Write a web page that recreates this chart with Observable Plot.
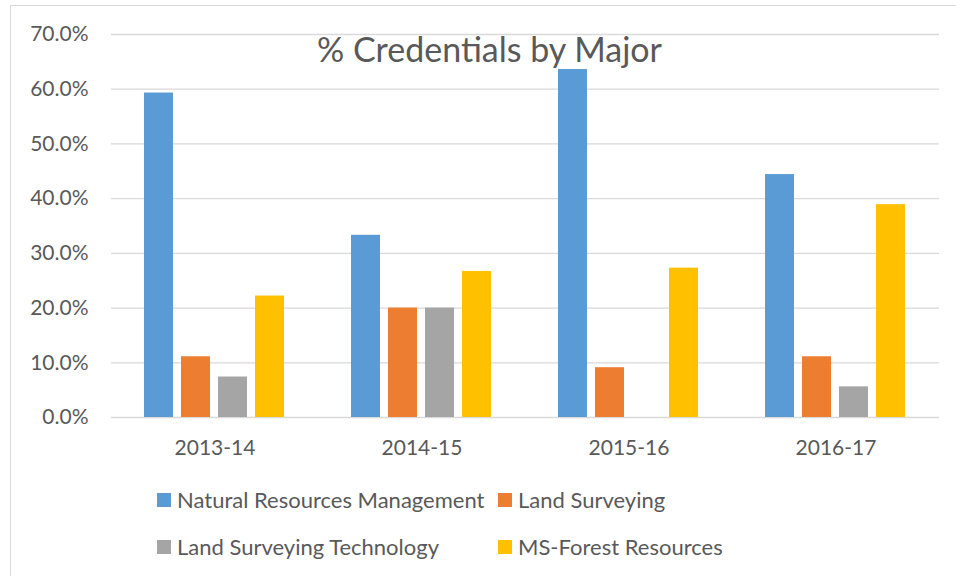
<!DOCTYPE html>
<html>
<head>
<meta charset="utf-8">
<script src="https://cdn.jsdelivr.net/npm/d3@7"></script>
<script src="https://cdn.jsdelivr.net/npm/@observablehq/plot@0.6"></script>
<style>
  html, body { margin: 0; padding: 0; background: #fff; }
  #wrap { position: relative; width: 956px; height: 576px; overflow: hidden; background: #fff; font-family: Lato, "Open Sans", sans-serif; }
  #frame { position: absolute; left: 10px; top: 5px; width: 1000px; height: 640px; border: 1.3px solid #d9d9d9; box-sizing: border-box; }
  #chart { position: absolute; left: 0; top: 0; }
  #overlay { position: absolute; left: 0; top: 0; pointer-events: none; }
</style>
</head>
<body>
<div id="wrap">
  <div id="frame"></div>
  <div id="chart"></div>
  <svg id="overlay" width="956" height="576"></svg>
</div>
<script>
const title = "% Credentials by Major";
const years = ["2013-14", "2014-15", "2015-16", "2016-17"];
const series = ["Natural Resources Management", "Land Surveying", "Land Surveying Technology", "MS-Forest Resources"];
const colors = ["#5B9BD5", "#ED7D31", "#A5A5A5", "#FFC000"];
const naturalResourcesManagement = [0.593, 0.333, 0.636, 0.444];
const landSurveying = [0.111, 0.200, 0.091, 0.111];
const landSurveyingTechnology = [0.074, 0.200, 0.000, 0.056];
const msForestResources = [0.222, 0.267, 0.273, 0.389];
const yTicks = [0, 0.1, 0.2, 0.3, 0.4, 0.5, 0.6, 0.7];

const valuesBySeries = [naturalResourcesManagement, landSurveying, landSurveyingTechnology, msForestResources];
const rows = [];
years.forEach((year, i) => {
  series.forEach((s, j) => rows.push({year, series: s, value: valuesBySeries[j][i]}));
});

const textColor = "#595959";
const fontFamily = "Lato, 'Open Sans', sans-serif";

const chart = Plot.plot({
  width: 956,
  height: 470,
  marginLeft: 109,
  marginRight: 16,
  marginTop: 34,
  marginBottom: 53,
  style: {fontFamily, fontSize: "21px", color: textColor, background: "transparent", overflow: "visible"},
  facet: {data: rows, x: "year"},
  fx: {domain: years, padding: 0, label: null, axis: "bottom", tickSize: 0, tickPadding: 23},
  x: {domain: series, paddingInner: 0.215, paddingOuter: 0.87, axis: null},
  y: {domain: [0, 0.7], ticks: yTicks, tickFormat: d3.format(".1%"), tickSize: 0, tickPadding: 23, label: null},
  color: {domain: series, range: colors},
  marks: [
    Plot.ruleY(yTicks, {stroke: "#d9d9d9", strokeWidth: 1.3}),
    Plot.barY(rows, {x: "series", y: "value", fill: "series"})
  ]
});
document.getElementById("chart").appendChild(chart);

// Title and legend overlay
const ov = d3.select("#overlay");
ov.append("text")
  .attr("x", 489.5).attr("y", 61.7)
  .attr("text-anchor", "middle")
  .attr("fill", textColor)
  .style("font-family", fontFamily)
  .style("font-size", "34px")
  .text(title);

const legendCols = [157, 498];
const legendRows = [500, 547];
series.forEach((s, i) => {
  const cx = legendCols[i % 2];
  const cy = legendRows[Math.floor(i / 2)];
  const g = ov.append("g");
  g.append("rect").attr("x", cx).attr("y", cy - 7).attr("width", 14).attr("height", 14).attr("fill", colors[i]);
  g.append("text").attr("x", cx + 20).attr("y", cy + 7.5)
    .attr("fill", textColor)
    .style("font-family", fontFamily)
    .style("font-size", "22px")
    .text(s);
});
</script>
</body>
</html>
